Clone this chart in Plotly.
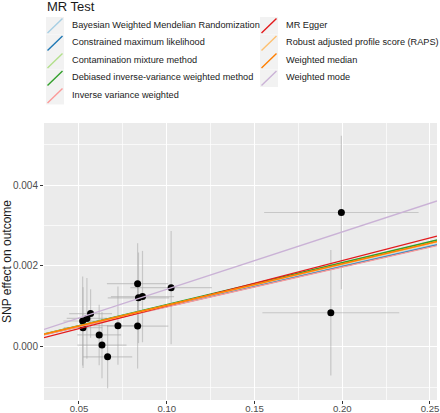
import plotly.graph_objects as go

# SNP data
beta_exposure = [0.0521, 0.0523, 0.0545, 0.0566, 0.0615, 0.0631, 0.0663, 0.0722,
                 0.0834, 0.0839, 0.0862, 0.0834, 0.1025, 0.1995, 0.1935]
beta_outcome = [0.000635, 0.00047, 0.00070, 0.00082, 0.00029, 0.00004, -0.00025, 0.00052,
                0.00156, 0.00121, 0.00124, 0.00051, 0.00146, 0.00332, 0.00084]
se_exposure = [0.011, 0.011, 0.0115, 0.0122, 0.0125, 0.014, 0.014, 0.014,
               0.0175, 0.0175, 0.018, 0.0175, 0.0232, 0.044, 0.039]
se_outcome = [0.0011, 0.0010, 0.0010, 0.0006, 0.00075, 0.00082, 0.00078, 0.00097,
              0.0010, 0.00112, 0.00113, 0.00105, 0.0014, 0.0019, 0.00155]

# MR methods
methods = ["Bayesian Weighted Mendelian Randomization", "Constrained maximum likelihood",
           "Contamination mixture method", "Debiased inverse-variance weighted method",
           "Inverse variance weighted", "MR Egger", "Robust adjusted profile score (RAPS)",
           "Weighted median", "Weighted mode"]
slopes = [0.0100, 0.00990, 0.01035, 0.01040, 0.00985, 0.01122, 0.0102, 0.01025, 0.0142]
intercepts = [0, 0, 0, 0, 0, -0.000114, 0, 0, 0]
colors = ["#A6CEE3", "#1F78B4", "#B2DF8A", "#33A02C", "#FB9A99",
          "#E31A1C", "#FDBF6F", "#FF7F00", "#CAB2D6"]
legend_title = "MR Test"

x_tickvals = [0.05, 0.10, 0.15, 0.20, 0.25]
x_ticktext = ["0.05", "0.10", "0.15", "0.20", "0.25"]
y_tickvals = [0.0, 0.002, 0.004]
y_ticktext = ["0.000", "0.002", "0.004"]

x_range = [0.03006, 0.254]
y_range = [-0.001319, 0.005534]

# layout geometry (pixels)
W, H = 440, 413
ML, MR, MT, MB = 44, 3, 123, 13
PW, PH = W - ML - MR, H - MT - MB


def px_x(p):
    return (p - ML) / PW


def px_y(p):
    return (H - MB - p) / PH


fig = go.Figure()
fig.add_trace(go.Scatter(
    x=beta_exposure, y=beta_outcome, mode="markers",
    marker=dict(color="black", size=7),
    error_x=dict(type="data", array=se_exposure, color="rgba(170,170,170,0.55)", thickness=1.2, width=0),
    error_y=dict(type="data", array=se_outcome, color="rgba(170,170,170,0.55)", thickness=1.2, width=0),
    showlegend=False, hoverinfo="skip"))

for i in range(len(methods)):
    xs = x_range
    ys = [intercepts[i] + slopes[i] * xv for xv in xs]
    fig.add_trace(go.Scatter(
        x=xs, y=ys, mode="lines", name=methods[i],
        line=dict(color=colors[i], width=1.4), showlegend=False))

# ggplot-style legend: 2 columns, 5 rows, grey key boxes with diagonal lines
shapes = []
annotations = [dict(text=legend_title, xref="paper", yref="paper",
                    x=px_x(45), y=px_y(6.5), xanchor="left", yanchor="middle",
                    showarrow=False, font=dict(size=13, color="#1a1a1a"))]
col_key_x = [46, 260]
col_text_x = [70, 283.5]
row_top0, row_h, key_w = 17, 17.5, 18
for i, name in enumerate(methods):
    c = 0 if i < 5 else 1
    r = i if i < 5 else i - 5
    x0 = col_key_x[c]
    y0 = row_top0 + r * row_h
    shapes.append(dict(type="rect", xref="paper", yref="paper",
                       x0=px_x(x0), x1=px_x(x0 + key_w), y0=px_y(y0), y1=px_y(y0 + row_h),
                       fillcolor="#F2F2F2", line=dict(width=0), layer="above"))
    shapes.append(dict(type="line", xref="paper", yref="paper",
                       x0=px_x(x0 + 1.5), x1=px_x(x0 + key_w - 1.5),
                       y0=px_y(y0 + row_h - 1.5), y1=px_y(y0 + 1.5),
                       line=dict(color=colors[i], width=1.4), layer="above"))
    annotations.append(dict(text=name, xref="paper", yref="paper",
                            x=px_x(col_text_x[c]), y=px_y(y0 + row_h / 2 - 1.2),
                            xanchor="left", yanchor="middle", showarrow=False,
                            font=dict(size=9.2, color="#1a1a1a")))

fig.update_layout(
    width=W, height=H,
    margin=dict(l=ML, r=MR, t=MT, b=MB, autoexpand=False),
    paper_bgcolor="white", plot_bgcolor="#EBEBEB",
    font=dict(family="Liberation Sans, Arial, sans-serif", color="#1a1a1a"),
    showlegend=False,
    shapes=shapes, annotations=annotations,
    xaxis=dict(range=x_range, tickvals=x_tickvals, ticktext=x_ticktext, automargin=False,
               showgrid=True, gridcolor="white", gridwidth=1.1, zeroline=False,
               ticks="outside", ticklen=3, tickcolor="#333333", ticklabelstandoff=-4,
               ticklabeloverflow="allow",
               tickfont=dict(size=9.6, color="#4D4D4D"),
               minor=dict(tickvals=[0.075, 0.125, 0.175, 0.225], showgrid=True,
                          gridcolor="rgba(255,255,255,0.7)", gridwidth=0.5)),
    yaxis=dict(range=y_range, tickvals=y_tickvals, ticktext=y_ticktext, automargin=False,
               showgrid=True, gridcolor="white", gridwidth=1.1, zeroline=False,
               ticks="outside", ticklen=3, tickcolor="#333333",
               tickfont=dict(size=10, color="#4D4D4D"),
               title=dict(text="SNP effect on outcome", font=dict(size=12, color="#1a1a1a"), standoff=4),
               minor=dict(tickvals=[-0.001, 0.001, 0.003, 0.005], showgrid=True,
                          gridcolor="rgba(255,255,255,0.7)", gridwidth=0.5)),
)

fig.write_html("out.html", config={"displayModeBar": False},
               post_script="document.body.style.margin='0';")
